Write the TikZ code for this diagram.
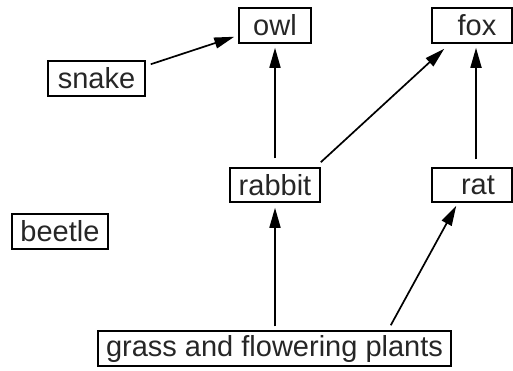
\documentclass[tikz,border=0pt]{standalone}
\usepackage{fontspec}
\setmainfont{Liberation Sans}
\usetikzlibrary{calc,arrows.meta}
\tikzset{
  box/.style={draw, line width=1.5pt, inner sep=0pt, minimum height=35pt,
    font=\fontsize{29}{29}\selectfont, text=black!85},
  arr/.style={line width=1.7pt, -{Triangle[length=20pt,width=11pt]}}
}
\begin{document}
\begin{tikzpicture}[x=1pt,y=-1pt]
\useasboundingbox (0,0) rectangle (513,370);
\node[box, minimum width=72pt] (owl) at (275,25.5) {owl};
\node[box, minimum width=80pt] (fox) at (472,25.5) {\hspace*{10pt}fox};
\node[box, minimum width=97pt] (snake) at (96.5,78.5) {snake};
\node[box, minimum width=90pt, minimum height=34pt] (rabbit) at (275,185) {rabbit};
\node[box, minimum width=80pt, minimum height=34pt] (rat) at (472,185) {\hspace*{12pt}rat};
\node[box, minimum width=96pt] (beetle) at (60,231.5) {beetle};
\node[box, minimum width=353pt] (grass) at (274.5,348.5) {grass and flowering plants};

\draw[arr] ($(snake.north east)+(5,4)$) -- ($(owl.south west)+(-4,-7)$);
\draw[arr, shorten <=9pt, shorten >=4pt] (rabbit.north) -- (owl.south);
\draw[arr] ($(rabbit.north east)+(0,-5)$) -- ($(fox.south west)+(13,5)$);
\draw[arr, shorten <=8pt, shorten >=4pt] ($(rat.north)+(4,0)$) -- ($(fox.south)+(4,0)$);
\draw[arr, shorten <=4pt, shorten >=5pt] (grass.north -| rabbit.south) -- (rabbit.south);
\draw[arr] ($(grass.north east)+(-61,-5)$) -- ($(rat.south west)+(25,3)$);
\end{tikzpicture}
\end{document}
